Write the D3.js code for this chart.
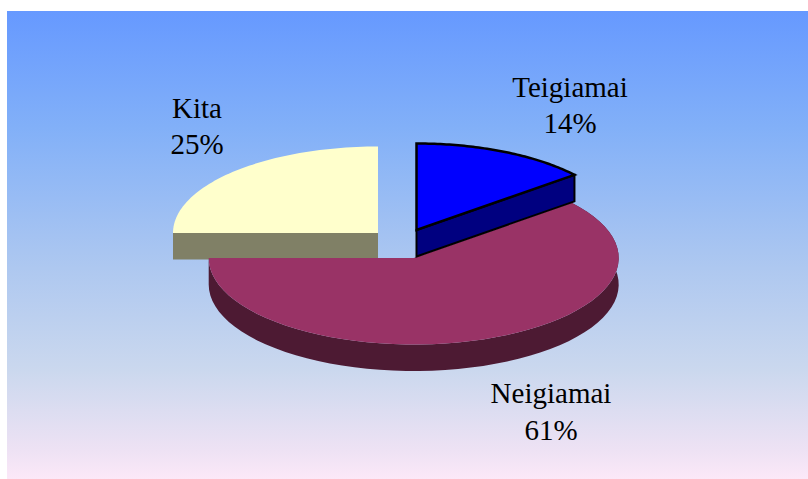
<!DOCTYPE html>
<html><head><meta charset="utf-8">
<script src="https://cdn.jsdelivr.net/npm/d3@7"></script>
<style>html,body{margin:0;padding:0;background:#fff}svg{display:block}</style></head>
<body><div id="chart"></div>
<script>
const categories = ["Teigiamai", "Neigiamai", "Kita"];
const values = [14, 61, 25];
const percentLabels = ["14%", "61%", "25%"];
const topColors = ["#0000ff", "#993366", "#ffffcc"];
const sideColors = ["#000080", "#4d1a33", "#808066"];
const centres = [[416.5, 230], [413.7, 258], [378, 233]];
const labelPos = [[570, 96.5], [551, 403], [197, 117.5]];
const bgOffsets = [0, 0.25, 0.55, 0.77, 0.94, 1];
const bgColors = ["#6699ff", "#82b0f8", "#aec8f0", "#cbd8ee", "#eee2f4", "#fce8f8"];
const W = 808, H = 479, RX = 205, RY = 86.5, DEPTH = 26.5;

const svg = d3.select("#chart").append("svg").attr("width", W).attr("height", H);
const grad = svg.append("defs").append("linearGradient").attr("id", "bg")
  .attr("x1", 0).attr("y1", 0).attr("x2", 0).attr("y2", 1);
bgOffsets.forEach((o, i) => grad.append("stop").attr("offset", o).attr("stop-color", bgColors[i]));
svg.append("rect").attr("x", 7).attr("y", 11).attr("width", W - 7).attr("height", H - 11).attr("fill", "url(#bg)");

const pie = d3.pie().sort(null).startAngle(0).endAngle(2 * Math.PI);
const arcs = pie(values);
const sx = d3.scaleLinear().domain([-1, 1]).range([-RX, RX]);
const sy = d3.scaleLinear().domain([-1, 1]).range([-RY, RY]);
const pt = (a, c, dy = 0) => [c[0] + sx(Math.sin(a)), c[1] - sy(Math.cos(a)) + dy];
const samples = (a0, a1) => d3.range(0, 61).map(i => a0 + (a1 - a0) * i / 60);
const line = d3.line();

function topPath(d, c) {
  return line([c, ...samples(d.startAngle, d.endAngle).map(a => pt(a, c))]) + "Z";
}
function outerWall(a0, a1, c) {
  const s = samples(a0, a1);
  return line([...s.map(a => pt(a, c)), ...s.reverse().map(a => pt(a, c, DEPTH))]) + "Z";
}
function cutWall(a, c) {
  return line([c, pt(a, c), pt(a, c, DEPTH), [c[0], c[1] + DEPTH]]) + "Z";
}

const g = svg.append("g");
{
  const i = 2, d = arcs[i], c = centres[i];
  g.append("path").attr("d", line([pt(d.startAngle, c), c, [c[0], c[1] + DEPTH], pt(d.startAngle, c, DEPTH)]) + "Z").attr("fill", sideColors[i]);
  g.append("path").attr("d", topPath(d, c)).attr("fill", topColors[i]);
}
{
  const i = 1, d = arcs[i], c = centres[i];
  g.append("path").attr("d", outerWall(d.startAngle, d.endAngle, c)).attr("fill", sideColors[i]);
  g.append("path").attr("d", topPath(d, c)).attr("fill", topColors[i]);
}
{
  const i = 0, d = arcs[i], c = centres[i];
  g.append("path").attr("d", cutWall(d.endAngle, c)).attr("fill", sideColors[i]).attr("stroke", "#000").attr("stroke-width", 2).attr("stroke-linejoin", "miter");
  g.append("path").attr("d", topPath(d, c)).attr("fill", topColors[i]).attr("stroke", "#000").attr("stroke-width", 2.5).attr("stroke-linejoin", "miter");
}

const lab = svg.append("g").attr("font-family", "'Liberation Serif', serif").attr("font-size", 29).attr("fill", "#000").attr("text-anchor", "middle");
categories.forEach((name, i) => {
  lab.append("text").attr("x", labelPos[i][0]).attr("y", labelPos[i][1]).text(name);
  lab.append("text").attr("x", labelPos[i][0]).attr("y", labelPos[i][1] + 36.5).text(percentLabels[i]);
});
</script></body></html>
